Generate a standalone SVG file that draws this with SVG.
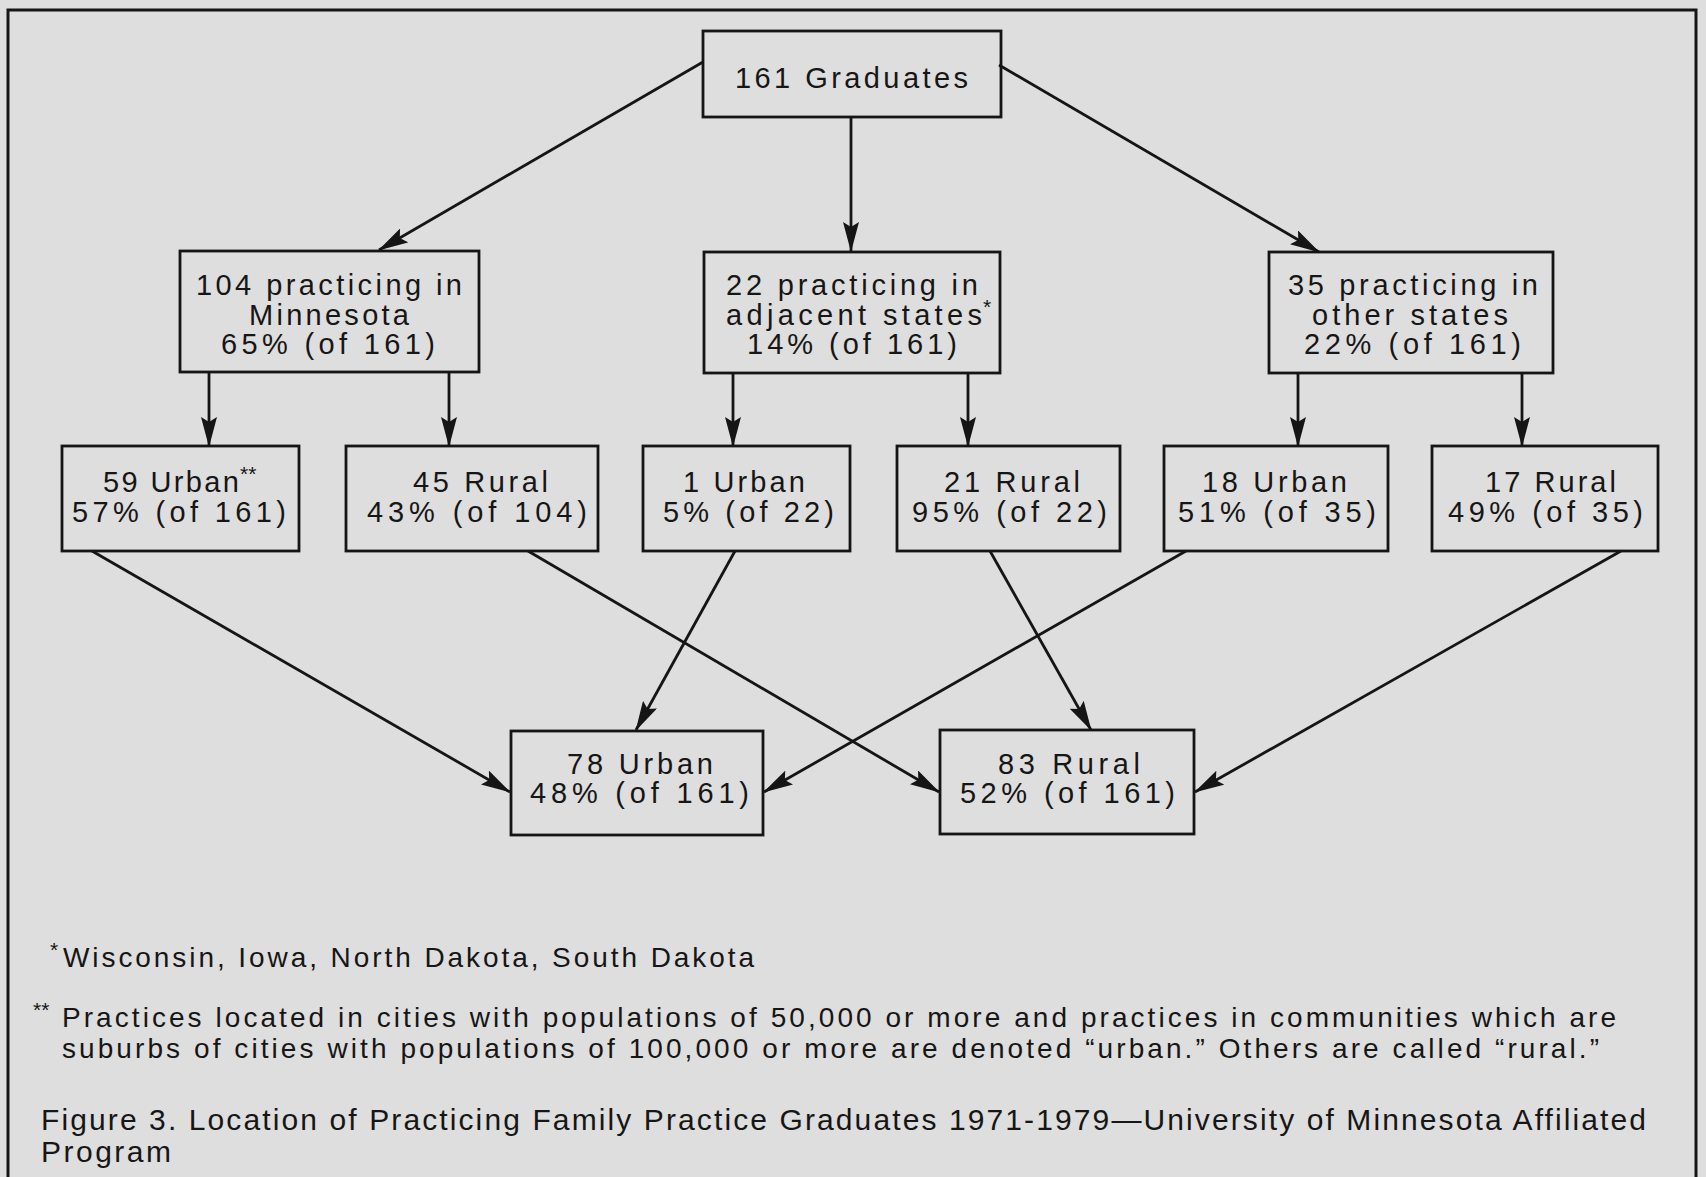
<svg xmlns="http://www.w3.org/2000/svg" width="1706" height="1177" viewBox="0 0 1706 1177">
<defs>
<style>
.bg{fill:#dedede}
.frame{fill:none;stroke:#151515;stroke-width:3}
.box{fill:none;stroke:#151515;stroke-width:2.8}
.t{font-family:"Liberation Sans",Arial,Helvetica,sans-serif;font-size:29px;fill:#161616}
.sup{font-family:"Liberation Sans",Arial,Helvetica,sans-serif;font-size:21px;fill:#161616}
.fn{font-family:"Liberation Sans",Arial,Helvetica,sans-serif;font-size:28px;fill:#161616}
.fsup{font-family:"Liberation Sans",Arial,Helvetica,sans-serif;font-size:21px;fill:#161616}
.cap{font-family:"Liberation Sans",Arial,Helvetica,sans-serif;font-size:30px;fill:#161616}
.c{fill:none;stroke:#151515;stroke-width:2.8}
</style>
<marker id="ah" viewBox="0 0 30 16" markerWidth="30" markerHeight="16" refX="29" refY="8" orient="auto" markerUnits="userSpaceOnUse">
<path d="M0,0 L30,8 L0,16 L5,8 z" fill="#151515"/>
</marker>
</defs>
<rect class="bg" x="0" y="0" width="1706" height="1177"/>
<path class="frame" d="M8,1177 L8,10 L1696,10 L1696,1177"/>

<g id="connectors">
<line class="c" x1="703" y1="62" x2="379" y2="250" marker-end="url(#ah)"/>
<line class="c" x1="851" y1="117" x2="851" y2="251" marker-end="url(#ah)"/>
<line class="c" x1="999" y1="65" x2="1319" y2="252" marker-end="url(#ah)"/>
<line class="c" x1="209" y1="372" x2="209" y2="446" marker-end="url(#ah)"/>
<line class="c" x1="449" y1="372" x2="449" y2="446" marker-end="url(#ah)"/>
<line class="c" x1="733" y1="373" x2="733" y2="446" marker-end="url(#ah)"/>
<line class="c" x1="968" y1="373" x2="968" y2="446" marker-end="url(#ah)"/>
<line class="c" x1="1298" y1="373" x2="1298" y2="446" marker-end="url(#ah)"/>
<line class="c" x1="1522" y1="373" x2="1522" y2="446" marker-end="url(#ah)"/>
<line class="c" x1="92" y1="551" x2="510" y2="792" marker-end="url(#ah)"/>
<line class="c" x1="528" y1="551" x2="939" y2="792" marker-end="url(#ah)"/>
<line class="c" x1="735" y1="551" x2="636" y2="730" marker-end="url(#ah)"/>
<line class="c" x1="990" y1="551" x2="1091" y2="730" marker-end="url(#ah)"/>
<line class="c" x1="1186" y1="551" x2="764" y2="792" marker-end="url(#ah)"/>
<line class="c" x1="1621" y1="551" x2="1195" y2="792" marker-end="url(#ah)"/>
</g>

<g id="n_grad">
<rect class="box" x="703" y="31" width="298" height="86"/>
<text class="t" x="735" y="88" textLength="233" lengthAdjust="spacing">161 Graduates</text>
</g>

<g id="n_mn">
<rect class="box" x="180" y="251" width="299" height="121"/>
<text class="t" x="196" y="295" textLength="266" lengthAdjust="spacing">104 practicing in</text>
<text class="t" x="249" y="325" textLength="160" lengthAdjust="spacing">Minnesota</text>
<text class="t" x="221" y="354" textLength="214" lengthAdjust="spacing">65% (of 161)</text>
</g>

<g id="n_adj">
<rect class="box" x="704" y="252" width="296" height="121"/>
<text class="t" x="726" y="295" textLength="252" lengthAdjust="spacing">22 practicing in</text>
<text class="t" x="726" y="325" textLength="256" lengthAdjust="spacing">adjacent states</text>
<text class="sup" x="983" y="314">*</text>
<text class="t" x="747" y="354" textLength="210" lengthAdjust="spacing">14% (of 161)</text>
</g>

<g id="n_other">
<rect class="box" x="1269" y="252" width="284" height="121"/>
<text class="t" x="1288" y="295" textLength="250" lengthAdjust="spacing">35 practicing in</text>
<text class="t" x="1312" y="325" textLength="196" lengthAdjust="spacing">other states</text>
<text class="t" x="1304" y="354" textLength="217" lengthAdjust="spacing">22% (of 161)</text>
</g>

<g id="n_mn_urban">
<rect class="box" x="62" y="446" width="237" height="105"/>
<text class="t" x="103" y="492" textLength="136" lengthAdjust="spacing">59 Urban</text>
<text class="sup" x="240" y="481">**</text>
<text class="t" x="72" y="522" textLength="214" lengthAdjust="spacing">57% (of 161)</text>
</g>

<g id="n_mn_rural">
<rect class="box" x="346" y="446" width="252" height="105"/>
<text class="t" x="413" y="492" textLength="135" lengthAdjust="spacing">45 Rural</text>
<text class="t" x="367" y="522" textLength="220" lengthAdjust="spacing">43% (of 104)</text>
</g>

<g id="n_adj_urban">
<rect class="box" x="643" y="446" width="207" height="105"/>
<text class="t" x="683" y="492" textLength="122" lengthAdjust="spacing">1 Urban</text>
<text class="t" x="663" y="522" textLength="171" lengthAdjust="spacing">5% (of 22)</text>
</g>

<g id="n_adj_rural">
<rect class="box" x="897" y="446" width="223" height="105"/>
<text class="t" x="944" y="492" textLength="136" lengthAdjust="spacing">21 Rural</text>
<text class="t" x="912" y="522" textLength="195" lengthAdjust="spacing">95% (of 22)</text>
</g>

<g id="n_oth_urban">
<rect class="box" x="1164" y="446" width="224" height="105"/>
<text class="t" x="1202" y="492" textLength="145" lengthAdjust="spacing">18 Urban</text>
<text class="t" x="1178" y="522" textLength="198" lengthAdjust="spacing">51% (of 35)</text>
</g>

<g id="n_oth_rural">
<rect class="box" x="1432" y="446" width="226" height="105"/>
<text class="t" x="1485" y="492" textLength="131" lengthAdjust="spacing">17 Rural</text>
<text class="t" x="1448" y="522" textLength="195" lengthAdjust="spacing">49% (of 35)</text>
</g>

<g id="n_urban">
<rect class="box" x="511" y="731" width="252" height="104"/>
<text class="t" x="567" y="774" textLength="146" lengthAdjust="spacing">78 Urban</text>
<text class="t" x="530" y="803" textLength="219" lengthAdjust="spacing">48% (of 161)</text>
</g>

<g id="n_rural">
<rect class="box" x="940" y="730" width="254" height="104"/>
<text class="t" x="998" y="774" textLength="142" lengthAdjust="spacing">83 Rural</text>
<text class="t" x="960" y="803" textLength="215" lengthAdjust="spacing">52% (of 161)</text>
</g>

<g id="notes">
<text class="fsup" x="50" y="957">*</text>
<text class="fn" x="63" y="967" textLength="691" lengthAdjust="spacing">Wisconsin, Iowa, North Dakota, South Dakota</text>
<text class="fsup" x="33" y="1017">**</text>
<text class="fn" x="62" y="1027" textLength="1554" lengthAdjust="spacing">Practices located in cities with populations of 50,000 or more and practices in communities which are</text>
<text class="fn" x="62" y="1058" textLength="1537" lengthAdjust="spacing">suburbs of cities with populations of 100,000 or more are denoted “urban.”  Others are called “rural.”</text>
<text class="cap" x="41" y="1130" textLength="1605" lengthAdjust="spacing">Figure 3. Location of Practicing Family Practice Graduates 1971-1979—University of Minnesota Affiliated</text>
<text class="cap" x="41" y="1162" textLength="130" lengthAdjust="spacing">Program</text>
</g>
</svg>
